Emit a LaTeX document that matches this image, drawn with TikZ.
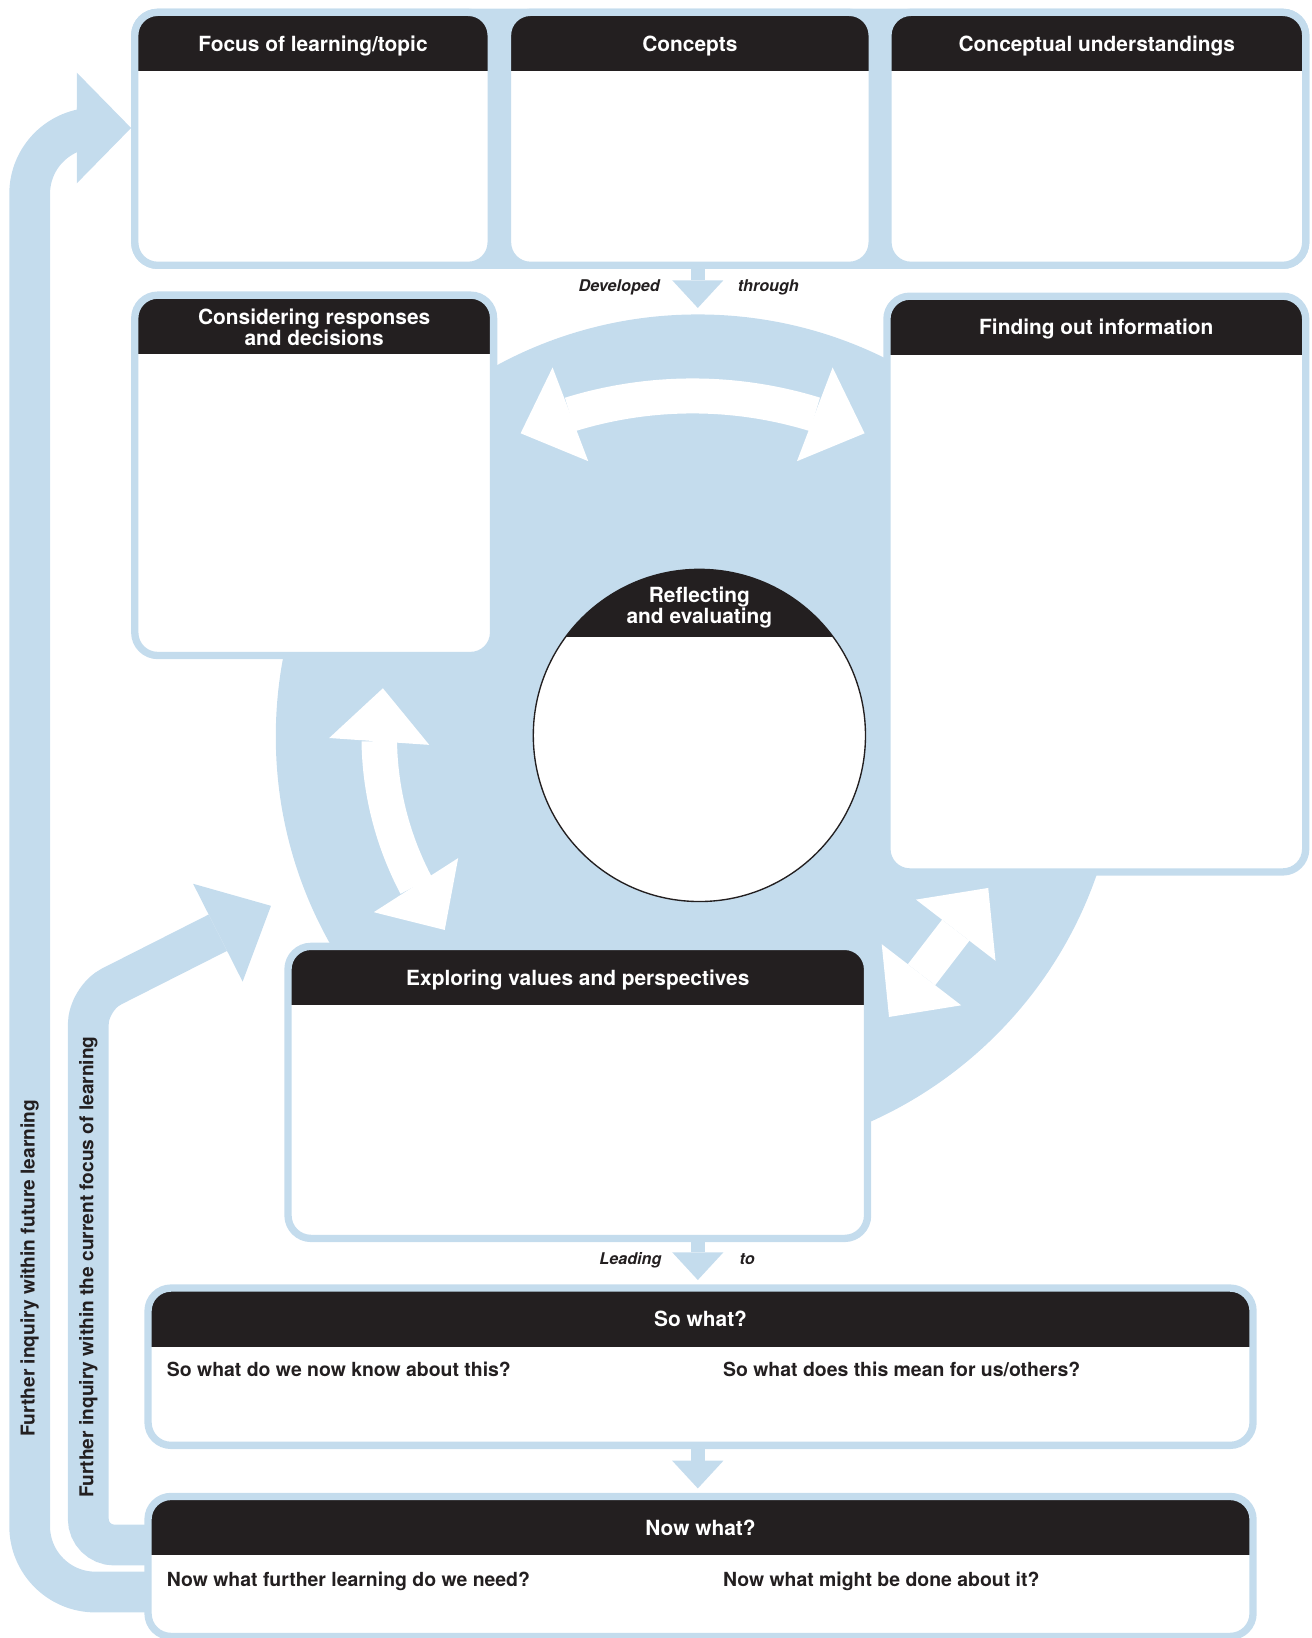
\documentclass[tikz,border=0pt]{standalone}
\usepackage{fontspec}
\setmainfont{TeX Gyre Heros}
\usetikzlibrary{arrows.meta, bending, positioning, fit, backgrounds, calc}
\definecolor{skyblue}{RGB}{196,220,237}
\definecolor{ink}{RGB}{35,31,32}
\tikzstyle{panel} = [rectangle, rounded corners=22pt, fill=white, draw=skyblue, line width=7pt, inner sep=0pt, outer sep=0pt, path picture={\fill[ink, sharp corners] (path picture bounding box.north west) rectangle ([yshift=-56pt]path picture bounding box.north east);}]
\tikzstyle{headtext} = [font=\fontsize{20}{20}\selectfont\bfseries, text=white, inner sep=0pt, text height=14.4pt, text depth=0pt]
\tikzstyle{headtext2} = [font=\fontsize{20}{20}\selectfont\bfseries, text=white, inner sep=0pt, align=center]
\tikzstyle{question} = [font=\fontsize{18.6}{20}\selectfont\bfseries, text=ink, inner sep=0pt, anchor=base west]
\tikzstyle{linkword} = [font=\fontsize{15.5}{18}\selectfont\bfseries\itshape, text=ink, inner sep=0pt]
\tikzstyle{sidetext} = [font=\fontsize{18.3}{20}\selectfont\bfseries, text=ink, inner sep=0pt, rotate=90]
\tikzstyle{downflow} = [draw=skyblue, line width=13pt, -{Triangle[width=49pt, length=26.5pt, line width=0pt]}]
\tikzstyle{band} = [draw=skyblue, line width=39pt]
\tikzstyle{duo} = [draw=white, line width=34pt, {Triangle[width=96pt, length=51pt, line width=0pt]}-{Triangle[width=96pt, length=51pt, line width=0pt]}]

\begin{document}
\begin{tikzpicture}[x=1pt, y=-1pt]
\useasboundingbox (0,0) rectangle (1255,1568);
\clip (0,0) rectangle (1255,1568);

% light blue disc behind the inquiry stages
\node[circle, fill=skyblue, inner sep=0pt, minimum size=808pt] (cycle) at (668,705) {};

% top row
\node[panel, minimum width=341.2pt, minimum height=242.2pt] (focus) at (299.6,132.9) {};
\node[panel, minimum width=349.1pt, minimum height=242.2pt] (concepts) at (660.35,132.9) {};
\node[panel, minimum width=399.9pt, minimum height=242.2pt] (understand) at (1049.95,132.9) {};
\begin{scope}[on background layer]
\node[fit=(focus)(understand), fill=skyblue, rounded corners=25.5pt, inner sep=3.5pt] (toprow) {};
\end{scope}
\node[headtext, below=22.5pt of focus.north] (focus-t) {Focus of learning/topic};
\node[headtext, below=22.5pt of concepts.north] (concepts-t) {Concepts};
\node[headtext, below=22.5pt of understand.north] (understand-t) {Conceptual understandings};

% stages round the disc
\node[panel, minimum width=343.5pt, minimum height=345pt] (consider) at (300.75,455) {};
\node[panel, minimum width=400.9pt, minimum height=551.2pt] (finding) at (1049.45,559.1) {};
\node[panel, minimum width=554.8pt, minimum height=279.6pt] (explore) at (553.1,1045.7) {};
\node[headtext2, below=13pt of consider.north] (consider-t) {Considering responses\\and decisions};
\node[headtext, below=22.5pt of finding.north] (finding-t) {Finding out information};
\node[headtext, below=22.5pt of explore.north] (explore-t) {Exploring values and perspectives};

% so what / now what
\node[panel, minimum width=1057.8pt, minimum height=150.6pt] (sowhat) at (670.6,1308.3) {};
\node[panel, minimum width=1057.8pt, minimum height=134pt] (nowwhat) at (670.6,1499.5) {};
\node[headtext, below=22.5pt of sowhat.north] (sowhat-t) {So what?};
\node[headtext, below=22.5pt of nowwhat.north] (nowwhat-t) {Now what?};
\node[question] (know) at (159.6,1318) {So what do we now know about this?};
\node[question] (mean) at (692,1318) {So what does this mean for us/others?};
\node[question] (further) at (159.6,1518.3) {Now what further learning do we need?};
\node[question] (done) at (692,1518.3) {Now what might be done about it?};

% loops back to further inquiry
\coordinate (future-tip) at (125.5,122.5);
\coordinate (current-tip) at (259.4,867.1);
\draw[band, -{Triangle[width=106pt, length=52pt, line width=0pt]}] ([yshift=-24.5pt]nowwhat.west) [rounded corners=63pt] -- (28.4,1524) -- (28.4,122.5) [rounded corners=29pt] -- (future-tip);
\draw[band, -{Triangle[width=105pt, length=57pt, line width=0pt]}] ([yshift=20.5pt]nowwhat.west) [rounded corners=25pt] -- (84.5,1479) -- (84.5,955.6) [rounded corners=35pt] -- (current-tip);
\node[sidetext] (future-lbl) at (28.4,1214) {Further inquiry within future learning};
\node[sidetext] (current-lbl) at (84.5,1213) {Further inquiry within the current focus of learning};

% white two-way arrows inside the disc
\draw[duo, line width=33.5pt] ([shift={(663,776)}]-114.5:397) arc[start angle=114.5, end angle=65.5, radius=397pt];
\draw[duo] ([shift={(668,705)}]-171.3:305) arc[start angle=171.3, end angle=217.4, radius=305pt];
\draw[duo, line width=33pt] (851,973.5) -- (946,850);

% reflecting at the centre
\node[circle, draw=ink, line width=1.3pt, fill=white, inner sep=0pt, minimum size=318pt, path picture={\fill[ink] (path picture bounding box.north west) rectangle ([yshift=-65pt]path picture bounding box.north east);}] (reflect) at (669.5,704) {};
\node[headtext2, font=\fontsize{20}{19.5}\selectfont\bfseries, below=17.5pt of reflect.north] (reflect-t) {Reflecting\\and evaluating};

% flow downwards
\draw[downflow] (toprow.south -| cycle.north) -- ($(cycle.north)+(0,-6)$);
\draw[downflow] (explore.south -| cycle.north) -- ($(sowhat.north -| cycle.north)+(0,-7.7)$);
\draw[downflow] (sowhat.south -| cycle.north) -- ($(nowwhat.north -| cycle.north)+(0,-7.7)$);
\node[linkword, anchor=base east] (developed) at (631.8,279.2) {Developed};
\node[linkword, anchor=base west] (through) at (706.2,279.2) {through};
\node[linkword, anchor=base east] (leading) at (633.4,1210.3) {Leading};
\node[linkword, anchor=base west] (to-word) at (707.8,1210.3) {to};

\end{tikzpicture}
\end{document}
